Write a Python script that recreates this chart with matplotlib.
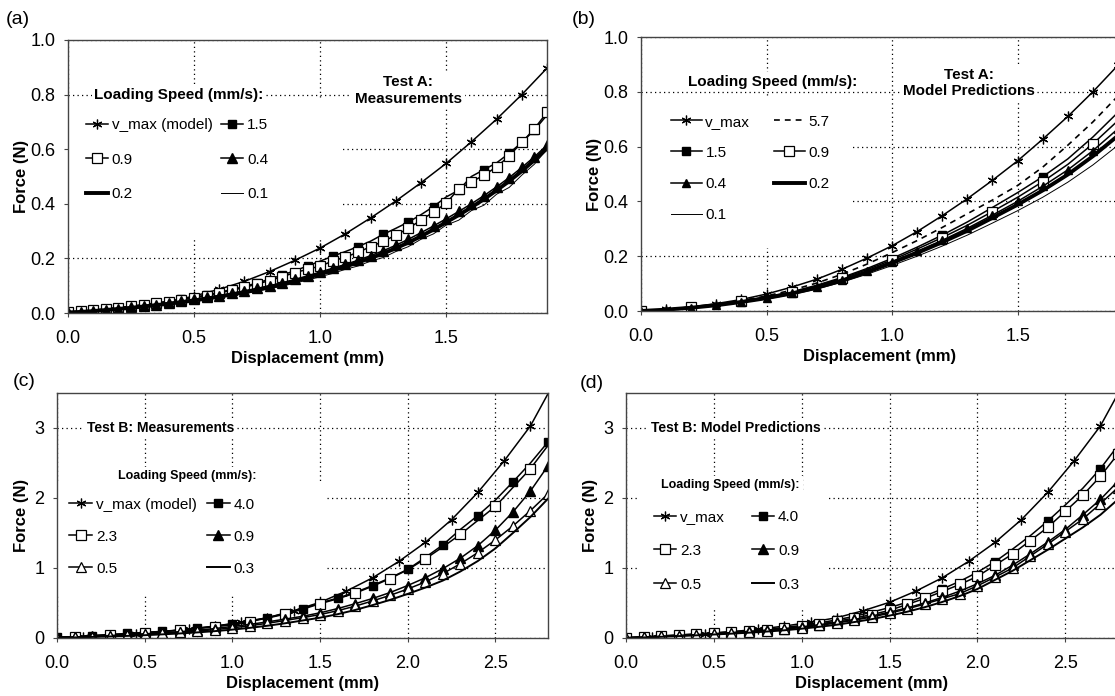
import matplotlib.pyplot as plt
import numpy as np
from matplotlib.patches import Rectangle

plt.rcParams['font.family'] = ['Liberation Sans', 'DejaVu Sans']

W, H = 1115, 696

# ---------------------------------------------------------------
# Test A (displacement up to 1.9 mm)
# ---------------------------------------------------------------
xa = np.round(np.arange(0, 1.9001, 0.1), 2)
xa_fine = np.round(np.arange(0, 1.9001, 0.05), 2)

vmax_a = [0, 0.006, 0.015, 0.027, 0.042, 0.062, 0.087, 0.116, 0.152, 0.193,
          0.238, 0.29, 0.348, 0.41, 0.477, 0.548, 0.627, 0.71, 0.80, 0.897]

# measurements (a)
meas_a_15 = [0.004, 0.007, 0.011, 0.015, 0.02, 0.025, 0.031, 0.037, 0.043, 0.05,
             0.058, 0.066, 0.076, 0.086, 0.097, 0.11, 0.124, 0.139, 0.155, 0.172,
             0.19, 0.208, 0.225, 0.243, 0.263, 0.288, 0.31, 0.333, 0.36, 0.39,
             0.425, 0.45, 0.50, 0.525, 0.55, 0.585, 0.625, 0.67, 0.725]
meas_a_09 = [0.003, 0.006, 0.010, 0.014, 0.019, 0.024, 0.03, 0.036, 0.042, 0.049,
             0.056, 0.064, 0.073, 0.083, 0.094, 0.106, 0.119, 0.133, 0.148, 0.16,
             0.172, 0.19, 0.205, 0.222, 0.243, 0.262, 0.285, 0.31, 0.34, 0.37,
             0.402, 0.455, 0.48, 0.505, 0.535, 0.575, 0.625, 0.675, 0.735]
meas_a_04 = [0.002, 0.005, 0.008, 0.012, 0.016, 0.021, 0.026, 0.031, 0.037, 0.043,
             0.05, 0.057, 0.064, 0.072, 0.081, 0.09, 0.1, 0.111, 0.123, 0.136,
             0.15, 0.164, 0.178, 0.193, 0.21, 0.228, 0.248, 0.27, 0.294, 0.319,
             0.345, 0.372, 0.4, 0.43, 0.462, 0.496, 0.533, 0.572, 0.615]
meas_a_02 = [0.002, 0.004, 0.007, 0.011, 0.015, 0.019, 0.024, 0.029, 0.034, 0.04,
             0.046, 0.053, 0.06, 0.068, 0.076, 0.085, 0.095, 0.105, 0.117, 0.129,
             0.142, 0.156, 0.17, 0.185, 0.201, 0.218, 0.237, 0.258, 0.281, 0.306,
             0.332, 0.359, 0.387, 0.417, 0.449, 0.483, 0.52, 0.56, 0.603]
meas_a_01 = [0.001, 0.004, 0.006, 0.01, 0.013, 0.018, 0.022, 0.027, 0.032, 0.037,
             0.043, 0.05, 0.056, 0.064, 0.071, 0.08, 0.089, 0.098, 0.11, 0.12,
             0.133, 0.145, 0.16, 0.172, 0.19, 0.203, 0.225, 0.243, 0.27, 0.29,
             0.322, 0.34, 0.375, 0.395, 0.435, 0.46, 0.505, 0.545, 0.6]

# model predictions (b)
model_a_57 = [0, 0.006, 0.014, 0.025, 0.038, 0.055, 0.076, 0.102, 0.134, 0.171,
              0.213, 0.257, 0.305, 0.355, 0.405, 0.458, 0.525, 0.605, 0.69, 0.785]
model_a_15 = [0, 0.006, 0.014, 0.024, 0.036, 0.052, 0.07, 0.094, 0.122, 0.155,
              0.192, 0.233, 0.277, 0.325, 0.378, 0.432, 0.49, 0.555, 0.635, 0.725]
model_a_09 = [0, 0.006, 0.013, 0.023, 0.035, 0.05, 0.068, 0.091, 0.119, 0.151,
              0.186, 0.226, 0.268, 0.313, 0.363, 0.415, 0.472, 0.535, 0.61, 0.695]
model_a_04 = [0, 0.005, 0.012, 0.022, 0.034, 0.048, 0.065, 0.087, 0.114, 0.145,
              0.18, 0.218, 0.258, 0.302, 0.35, 0.40, 0.455, 0.515, 0.585, 0.665]
model_a_02 = [0, 0.005, 0.012, 0.021, 0.033, 0.047, 0.064, 0.085, 0.111, 0.142,
              0.176, 0.212, 0.251, 0.293, 0.34, 0.388, 0.44, 0.498, 0.565, 0.64]
model_a_01 = [0, 0.005, 0.011, 0.02, 0.031, 0.044, 0.06, 0.08, 0.105, 0.134,
              0.166, 0.2, 0.237, 0.277, 0.321, 0.366, 0.415, 0.47, 0.533, 0.605]

# ---------------------------------------------------------------
# Test B (displacement up to 2.8 mm)
# ---------------------------------------------------------------
xb_vmax = np.round(np.arange(0, 2.8501, 0.15), 2)
xb = np.round(np.arange(0, 2.8001, 0.1), 2)

vmax_b = [0, 0.015, 0.035, 0.06, 0.09, 0.125, 0.17, 0.225, 0.29, 0.39,
          0.51, 0.67, 0.86, 1.095, 1.365, 1.69, 2.08, 2.53, 3.03, 3.72]

# measurements (c)
meas_b_40 = [0.01, 0.02, 0.035, 0.05, 0.065, 0.08, 0.095, 0.115, 0.14, 0.17,
             0.2, 0.24, 0.29, 0.35, 0.42, 0.5, 0.57, 0.65, 0.75, 0.86,
             0.98, 1.15, 1.33, 1.55, 1.75, 1.97, 2.23, 2.5, 2.8]
meas_b_23 = [0.01, 0.02, 0.033, 0.047, 0.062, 0.077, 0.093, 0.112, 0.135, 0.158,
             0.19, 0.235, 0.285, 0.34, 0.41, 0.49, 0.56, 0.64, 0.74, 0.85,
             0.975, 1.13, 1.3, 1.48, 1.68, 1.88, 2.15, 2.42, 2.75]
meas_b_09 = [0.005, 0.015, 0.025, 0.035, 0.047, 0.06, 0.075, 0.09, 0.11, 0.135,
             0.165, 0.195, 0.23, 0.27, 0.31, 0.36, 0.42, 0.49, 0.565, 0.65,
             0.75, 0.86, 0.99, 1.14, 1.32, 1.54, 1.8, 2.1, 2.46]
meas_b_05 = [0.005, 0.012, 0.02, 0.03, 0.04, 0.052, 0.065, 0.08, 0.098, 0.12,
             0.145, 0.175, 0.21, 0.25, 0.29, 0.335, 0.39, 0.455, 0.53, 0.61,
             0.70, 0.80, 0.92, 1.06, 1.22, 1.40, 1.6, 1.82, 2.06]
meas_b_03 = [0.003, 0.008, 0.015, 0.022, 0.03, 0.04, 0.052, 0.065, 0.08, 0.098,
             0.12, 0.145, 0.175, 0.21, 0.25, 0.29, 0.34, 0.40, 0.47, 0.545,
             0.63, 0.72, 0.82, 0.95, 1.1, 1.28, 1.5, 1.73, 1.99]

# model predictions (d)
model_b_40 = [0.005, 0.016, 0.03, 0.043, 0.057, 0.072, 0.088, 0.105, 0.125, 0.15,
              0.18, 0.215, 0.26, 0.31, 0.37, 0.435, 0.51, 0.60, 0.70, 0.81,
              0.94, 1.09, 1.27, 1.46, 1.67, 1.90, 2.14, 2.42, 2.75]
model_b_23 = [0.004, 0.015, 0.028, 0.042, 0.056, 0.07, 0.085, 0.1, 0.118, 0.138,
              0.165, 0.2, 0.24, 0.285, 0.335, 0.395, 0.48, 0.565, 0.665, 0.765,
              0.88, 1.04, 1.2, 1.39, 1.58, 1.81, 2.04, 2.31, 2.63]
model_b_09 = [0.003, 0.012, 0.023, 0.035, 0.048, 0.062, 0.078, 0.095, 0.113, 0.135,
              0.16, 0.19, 0.225, 0.265, 0.315, 0.37, 0.43, 0.50, 0.58, 0.67,
              0.775, 0.895, 1.04, 1.2, 1.37, 1.55, 1.76, 1.98, 2.24]
model_b_05 = [0.003, 0.011, 0.022, 0.033, 0.045, 0.058, 0.072, 0.088, 0.105, 0.125,
              0.15, 0.18, 0.215, 0.255, 0.30, 0.355, 0.415, 0.485, 0.56, 0.635,
              0.745, 0.87, 1.0, 1.17, 1.34, 1.52, 1.70, 1.92, 2.15]
model_b_03 = [0.002, 0.008, 0.017, 0.027, 0.038, 0.05, 0.062, 0.076, 0.092, 0.11,
              0.133, 0.16, 0.19, 0.228, 0.27, 0.32, 0.375, 0.44, 0.515, 0.6,
              0.70, 0.83, 0.96, 1.11, 1.26, 1.42, 1.58, 1.76, 1.98]

ticks_a_x = [0.0, 0.5, 1.0, 1.5]
ticks_a_y = [0.0, 0.2, 0.4, 0.6, 0.8, 1.0]
ticks_b_x = [0.0, 0.5, 1.0, 1.5, 2.0, 2.5]
ticks_b_y = [0, 1, 2, 3]

STAR = (6, 2, 0)
LW = 1.1


def px_axes(left, right, top, bottom):
    return [left / W, 1 - bottom / H, (right - left) / W, (bottom - top) / H]


def style(ax, xmax, ymax, xt, yt, yfmt, ylab_x):
    ax.set_xlim(0, xmax)
    ax.set_ylim(0, ymax)
    ax.set_xticks(xt)
    ax.set_xticklabels([f'{t:.1f}' for t in xt])
    ax.set_yticks(yt)
    ax.set_yticklabels([yfmt.format(t) for t in yt])
    ax.grid(True, color='black', linestyle=(0, (1, 2.6)), linewidth=0.9)
    ax.set_axisbelow(True)
    for s in ax.spines.values():
        s.set_color('#444444')
        s.set_linewidth(1.0)
    ax.tick_params(labelsize=13, length=3, color='#444444')
    ax.tick_params(axis='x', pad=9)
    ax.tick_params(axis='y', pad=6)
    ax.set_xlabel('Displacement (mm)', fontsize=12, fontweight='bold', labelpad=3)
    ax.set_ylabel('Force (N)', fontsize=12, fontweight='bold')
    ax.yaxis.set_label_coords(ylab_x, 0.5)


def blank(ax, x0, y0, x1, y1):
    # white box behind the legend (hides the grid there)
    ax.add_patch(Rectangle((x0, y0), x1 - x0, y1 - y0, transform=ax.transAxes,
                           facecolor='white', edgecolor='none', zorder=1))


def boxed_text(ax, x, y, s, size, ha='center'):
    ax.text(x, y, s, ha=ha, va='center', fontsize=size, fontweight='bold',
            linespacing=1.25, zorder=4,
            bbox=dict(facecolor='white', edgecolor='none', pad=2))


def legend(ax, handles, labels, x, y, hl, cs, ls):
    leg = ax.legend(handles, labels, ncol=2, loc='upper left', bbox_to_anchor=(x, y),
                    bbox_transform=ax.transAxes, frameon=False, fontsize=11,
                    borderpad=0, borderaxespad=0, handlelength=hl, handletextpad=0.25,
                    columnspacing=cs, labelspacing=ls)
    leg.set_zorder(5)


fig = plt.figure(figsize=(W / 100, H / 100), dpi=100)

# ---------------- (a) Test A measurements ----------------
ax = fig.add_axes(px_axes(68, 547, 40, 313))
style(ax, 1.9, 1.0, ticks_a_x, ticks_a_y, '{:.1f}', -0.081)
blank(ax, 0, 0.27, 0.574, 0.78)
h1, = ax.plot(xa, vmax_a, color='k', lw=LW, marker=STAR, ms=7, mew=0.9)
h2, = ax.plot(xa_fine, meas_a_15, color='k', lw=LW, marker='s', ms=6, markevery=(1, 2))
h3, = ax.plot(xa_fine, meas_a_09, color='k', lw=LW, marker='s', ms=6.5, mfc='white', mew=0.9)
h4, = ax.plot(xa_fine, meas_a_04, color='k', lw=LW, marker='^', ms=6.5)
h5, = ax.plot(xa_fine, meas_a_02, color='k', lw=2.8)
h6, = ax.plot(xa_fine, meas_a_01, color='k', lw=0.7)
legend(ax, [h1, h3, h5, h2, h4, h6], ['v_max (model)', '0.9', '0.2', '1.5', '0.4', '0.1'],
       0.037, 0.713, 1.45, 0.55, 1.33)
boxed_text(ax, 0.44, 0.80, 'Loading Speed (mm/s):', 11)
boxed_text(ax, 1.35, 0.815, 'Test A:\nMeasurements', 11)

# ---------------- (b) Test A model predictions ----------------
ax = fig.add_axes(px_axes(641, 1118, 37, 311))
style(ax, 1.9, 1.0, ticks_a_x, ticks_a_y, '{:.1f}', -0.082)
blank(ax, 0, 0.23, 0.44, 0.78)
g1, = ax.plot(xa, vmax_a, color='k', lw=LW, marker=STAR, ms=7, mew=0.9)
g2, = ax.plot(xa, model_a_57, color='k', lw=1.2, dashes=(3.5, 3))
g3, = ax.plot(xa, model_a_15, color='k', lw=LW, marker='s', ms=6, markevery=4)
g4, = ax.plot(xa, model_a_09, color='k', lw=LW, marker='s', ms=6.5, mfc='white',
              mew=0.9, markevery=2)
g5, = ax.plot(xa, model_a_04, color='k', lw=LW, marker='^', ms=6)
g6, = ax.plot(xa, model_a_02, color='k', lw=2.8)
g7, = ax.plot(xa, model_a_01, color='k', lw=0.7)
legend(ax, [g1, g3, g5, g7, g2, g4, g6], ['v_max', '1.5', '0.4', '0.1', '5.7', '0.9', '0.2'],
       0.063, 0.717, 2.0, 1.55, 1.13)
boxed_text(ax, 0.524, 0.837, 'Loading Speed (mm/s):', 11)
boxed_text(ax, 1.305, 0.832, 'Test A:\nModel Predictions', 11)

# ---------------- (c) Test B measurements ----------------
ax = fig.add_axes(px_axes(57, 548, 393, 638))
style(ax, 2.8, 3.5, ticks_b_x, ticks_b_y, '{:d}', -0.057)
blank(ax, 0, 0.17, 0.55, 0.63)
k1, = ax.plot(xb_vmax, vmax_b, color='k', lw=LW, marker=STAR, ms=7, mew=0.9)
k2, = ax.plot(xb, meas_b_40, color='k', lw=LW, marker='s', ms=6, markevery=(0, 2))
k3, = ax.plot(xb, meas_b_23, color='k', lw=LW, marker='s', ms=6.5, mfc='white',
              mew=0.9, markevery=(1, 2))
k4, = ax.plot(xb, meas_b_09, color='k', lw=LW, marker='^', ms=6.5)
k5, = ax.plot(xb, meas_b_05, color='k', lw=LW, marker='^', ms=6.5, mfc='white', mew=0.9)
k6, = ax.plot(xb, meas_b_03, color='k', lw=1.4)
legend(ax, [k1, k3, k5, k2, k4, k6], ['v_max (model)', '2.3', '0.5', '4.0', '0.9', '0.3'],
       0.025, 0.573, 1.5, 0.65, 1.18)
boxed_text(ax, 0.745, 2.32, 'Loading Speed (mm/s):', 9)
boxed_text(ax, 0.17, 3.0, 'Test B: Measurements', 10, ha='left')

# ---------------- (d) Test B model predictions ----------------
ax = fig.add_axes(px_axes(626, 1118, 393, 638))
style(ax, 2.8, 3.5, ticks_b_x, ticks_b_y, '{:d}', -0.057)
blank(ax, 0.025, 0.123, 0.41, 0.60)
m1, = ax.plot(xb_vmax, vmax_b, color='k', lw=LW, marker=STAR, ms=7, mew=0.9)
m2, = ax.plot(xb, model_b_40, color='k', lw=LW, marker='s', ms=6, markevery=3)
m3, = ax.plot(xb, model_b_23, color='k', lw=LW, marker='s', ms=6.5, mfc='white', mew=0.9)
m4, = ax.plot(xb, model_b_09, color='k', lw=LW, marker='^', ms=6.5)
m5, = ax.plot(xb, model_b_05, color='k', lw=LW, marker='^', ms=6.5, mfc='white', mew=0.9)
m6, = ax.plot(xb, model_b_03, color='k', lw=1.4)
legend(ax, [m1, m3, m5, m2, m4, m6], ['v_max', '2.3', '0.5', '4.0', '0.9', '0.3'],
       0.057, 0.522, 1.45, 1.77, 1.29)
boxed_text(ax, 0.596, 2.19, 'Loading Speed (mm/s):', 9)
boxed_text(ax, 0.14, 3.0, 'Test B: Model Predictions', 10, ha='left')

# panel letters
for lab, px, py in [('(a)', 18, 20), ('(b)', 584, 20), ('(c)', 24, 382), ('(d)', 592, 384)]:
    fig.text(px / W, 1 - py / H, lab, fontsize=14, ha='center', va='center')

fig.savefig('out.png', dpi=100)
